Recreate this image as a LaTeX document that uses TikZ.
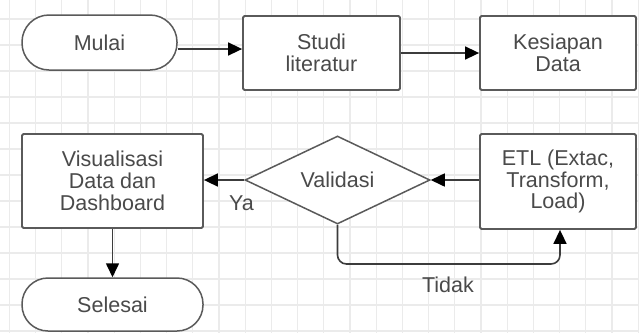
\documentclass[tikz,border=0pt]{standalone}
\usepackage{fontspec}
\setmainfont{Liberation Sans}
\usetikzlibrary{shapes.geometric,arrows.meta}
\definecolor{gridc}{HTML}{EBEBEB}
\definecolor{edgec}{HTML}{5A5A5A}
\definecolor{txtc}{HTML}{4A4A4A}
\definecolor{linec}{HTML}{3C3C3C}
\begin{document}
\begin{tikzpicture}[x=1pt,y=-1pt,
  every node/.style={font=\fontsize{21.5}{21.7}\selectfont, text=txtc, align=center},
  stepbox/.style={draw=edgec, line width=1.8pt, fill=white, rounded corners=1.5pt, inner sep=0pt},
  termbox/.style={draw=edgec, line width=1.5pt, fill=white, inner sep=0pt},
  decbox/.style={draw=edgec, line width=1.5pt, fill=white, diamond, aspect=2, inner sep=0pt, minimum width=185pt, minimum height=88pt},
  arr/.style={draw=linec, line width=1.6pt, -{Triangle[length=14pt,width=13pt,color=black]}},
  lbl/.style={font=\fontsize{21.5}{21.7}\selectfont, text=txtc}]
\fill[white] (0,0) rectangle (639,333);
\useasboundingbox (0,0) rectangle (639,333);
% grid
\foreach \k in {0,...,24} {\draw[gridc, line width=1.3pt] ({9.4+26.2*\k},0) -- ({9.4+26.2*\k},333);}
\foreach \k in {0,...,12} {\draw[gridc, line width=1.3pt] (0,{19+26*\k}) -- (639,{19+26*\k});}
% nodes
\node[termbox, rounded corners=27pt, minimum width=155pt, minimum height=55pt] (mulai) at (99.5,42.5) {Mulai};
\node[stepbox, minimum width=157pt, minimum height=74pt] (studi) at (321.5,53) {Studi\\literatur};
\node[stepbox, minimum width=156pt, minimum height=74pt] (kes) at (558,53) {Kesiapan\\Data};
\node[stepbox, minimum width=181pt, minimum height=94pt] (vis) at (112.5,181) {Visualisasi\\Data dan\\Dashboard};
\node[decbox] (val) at (337.5,180) {Validasi};
\node[stepbox, minimum width=156pt, minimum height=95pt] (etl) at (558,181.5) {ETL (Extac,\\Transform,\\Load)};
\node[termbox, rounded corners=26pt, minimum width=181pt, minimum height=53pt] (sel) at (112.5,304.5) {Selesai};
% connectors
\draw[arr] ([yshift=-6.5pt]mulai.east) -- ([yshift=-6.5pt]mulai.east -| studi.west);
\draw[arr] (studi.east) -- (kes.west);
\draw[arr] (etl.west |- val.east) -- (val.east);
\draw[arr] (val.west) -- (vis.east |- val.west);
\draw[arr] (vis.south) -- (sel.north);
\coordinate (tk) at (560,264);
\draw[arr, rounded corners=9pt] (val.south) |- (tk) -- ([xshift=2pt]etl.south);
% labels
\node[lbl] (ya) at (241.5,203.5) {Ya};
\node[lbl] (tidak) at (448,285) {Tidak};
\end{tikzpicture}
\end{document}
